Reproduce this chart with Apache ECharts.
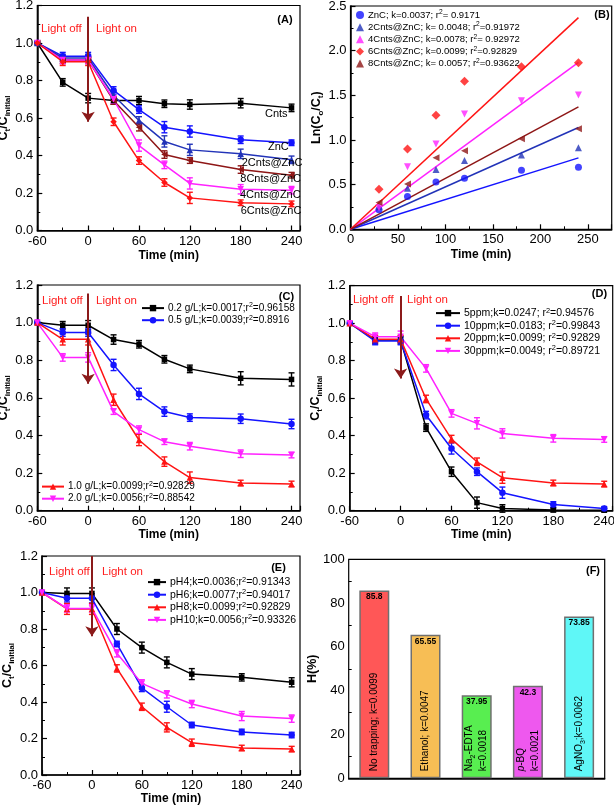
<!DOCTYPE html>
<html><head><meta charset="utf-8">
<script src="https://cdn.jsdelivr.net/npm/echarts@6/dist/echarts.min.js"></script>
<style>html,body{margin:0;padding:0;background:#fff}#c{width:614px;height:805px}</style>
</head><body><div id="c"></div>
<script>
// ---------- shared ----------
const times = [-60, -30, 0, 30, 60, 90, 120, 180, 240];

// ---------- Panel A ----------
const aCnts  = [1.0, 0.79, 0.706, 0.693, 0.693, 0.676, 0.672, 0.679, 0.654];
const aZnC   = [1.0, 0.93, 0.93, 0.747, 0.645, 0.551, 0.528, 0.484, 0.468];
const a2Cnts = [1.0, 0.92, 0.92, 0.72, 0.587, 0.475, 0.43, 0.409, 0.377];
const a8Cnts = [1.0, 0.91, 0.91, 0.693, 0.551, 0.405, 0.373, 0.325, 0.295];
const a4Cnts = [1.0, 0.91, 0.91, 0.70, 0.453, 0.35, 0.251, 0.22, 0.215];
const a6Cnts = [1.0, 0.90, 0.90, 0.58, 0.373, 0.256, 0.174, 0.148, 0.142];
const aErrCnts  = [0, 0.02, 0.025, 0.02, 0.022, 0.02, 0.025, 0.025, 0.02];
const aErrZnC   = [0, 0.02, 0.02, 0.02, 0.02, 0.03, 0.03, 0.02, 0.015];
const aErr2Cnts = [0, 0.02, 0.02, 0.02, 0.02, 0.03, 0.03, 0.025, 0.02];
const aErr8Cnts = [0, 0.02, 0.02, 0.02, 0.02, 0.02, 0.015, 0.02, 0.015];
const aErr4Cnts = [0, 0.02, 0.02, 0.02, 0.03, 0.02, 0.03, 0.025, 0.02];
const aErr6Cnts = [0, 0.02, 0.02, 0.02, 0.02, 0.02, 0.03, 0.015, 0.015];
const aArrow = [1.14, 0.58];

// ---------- Panel B ----------
const bTimes = [30, 60, 90, 120, 180, 240];
const bZnC   = [0.22, 0.366, 0.53, 0.571, 0.66, 0.694];
const b2Cnts = [0.254, 0.459, 0.67, 0.769, 0.832, 0.914];
const b4Cnts = [0.24, 0.70, 0.955, 1.29, 1.44, 1.504];
const b6Cnts = [0.448, 0.899, 1.276, 1.657, 1.82, 1.866];
const b8Cnts = [0.30, 0.507, 0.80, 0.88, 1.015, 1.127];
const bFitX = [0, 240];
const bFitZnC = [0, 0.80];
const bFit2 = [0, 1.14];
const bFit4 = [0, 1.87];
const bFit6 = [0, 2.37];
const bFit8 = [0, 1.37];
const bNames = ['ZnC; k=0.0037; r^2= 0.9171', '2Cnts@ZnC; k= 0.0048; r^2=0.91972', '4Cnts@ZnC; k=0.0078; r^2= 0.92972', '6Cnts@ZnC; k=0.0099; r^2=0.92829', '8Cnts@ZnC; k= 0.0057; r^2=0.93622'];

// ---------- Panel C ----------
const c02 = [1.0, 0.986, 0.986, 0.910, 0.885, 0.805, 0.754, 0.704, 0.698];
const c05 = [1.0, 0.947, 0.947, 0.775, 0.621, 0.527, 0.495, 0.489, 0.461];
const c10 = [1.0, 0.911, 0.911, 0.59, 0.376, 0.261, 0.176, 0.147, 0.142];
const c20 = [1.0, 0.815, 0.815, 0.527, 0.431, 0.367, 0.343, 0.303, 0.296];
const cErr02 = [0, 0.02, 0.025, 0.025, 0.02, 0.02, 0.02, 0.035, 0.035];
const cErr05 = [0, 0.02, 0.02, 0.03, 0.03, 0.025, 0.02, 0.025, 0.025];
const cErr10 = [0, 0.03, 0.03, 0.03, 0.03, 0.025, 0.03, 0.015, 0.015];
const cErr20 = [0, 0.02, 0.025, 0.015, 0.02, 0.015, 0.02, 0.02, 0.015];
const cNames = ['0.2 g/L;k=0.0017;r^2=0.96158', '0.5 g/L;k=0.0039;r^2=0.8916', '1.0 g/L;k=0.0099;r^2=0.92829', '2.0 g/L;k=0.0056;r^2=0.88542'];
const cArrow = [1.155, 0.675];

// ---------- Panel D ----------
const d5  = [1.0, 0.91, 0.91, 0.443, 0.208, 0.043, 0.012, 0.004, 0.003];
const d10 = [1.0, 0.905, 0.905, 0.51, 0.332, 0.208, 0.096, 0.033, 0.012];
const d20 = [1.0, 0.915, 0.915, 0.596, 0.382, 0.261, 0.176, 0.148, 0.142];
const d30 = [1.0, 0.928, 0.928, 0.759, 0.519, 0.466, 0.412, 0.386, 0.380];
const dErr5  = [0, 0.02, 0.02, 0.02, 0.025, 0.03, 0.02, 0.01, 0.01];
const dErr10 = [0, 0.02, 0.02, 0.02, 0.03, 0.02, 0.03, 0.015, 0.01];
const dErr20 = [0, 0.02, 0.02, 0.02, 0.02, 0.02, 0.03, 0.015, 0.015];
const dErr30 = [0, 0.02, 0.03, 0.02, 0.02, 0.03, 0.025, 0.02, 0.015];
const dNames = ['5ppm;k=0.0247; r^2=0.94576', '10ppm;k=0.0183; r^2=0.99843', '20ppm;k=0.0099; r^2=0.92829', '30ppm;k=0.0049; r^2=0.89721'];
const dArrow = [1.145, 0.705];

// ---------- Panel E ----------
const e4  = [1.0, 0.995, 0.995, 0.80, 0.698, 0.617, 0.553, 0.535, 0.508];
const e6  = [1.0, 0.968, 0.968, 0.718, 0.477, 0.374, 0.274, 0.236, 0.219];
const e8  = [1.0, 0.91, 0.91, 0.584, 0.374, 0.261, 0.177, 0.148, 0.142];
const e10 = [1.0, 0.913, 0.913, 0.667, 0.502, 0.442, 0.389, 0.323, 0.309];
const eErr4  = [0, 0.03, 0.03, 0.03, 0.03, 0.03, 0.03, 0.02, 0.025];
const eErr6  = [0, 0.02, 0.025, 0.015, 0.02, 0.03, 0.015, 0.015, 0.015];
const eErr8  = [0, 0.03, 0.03, 0.02, 0.02, 0.025, 0.02, 0.015, 0.015];
const eErr10 = [0, 0.02, 0.02, 0.02, 0.02, 0.02, 0.02, 0.025, 0.02];
const eNames = ['pH4;k=0.0036;r^2=0.91343', 'pH6;k=0.0077;r^2=0.94017', 'pH8;k=0.0099;r^2=0.92829', 'pH10;k=0.0056;r^2=0.93326'];
const eArrow = [1.2, 0.76];

// ---------- Panel F ----------
const fCats = ['No trapping', 'Ethanol', 'Na2-EDTA', 'p-BQ', 'AgNO3'];
const fValues = [85.8, 65.55, 37.95, 42.3, 73.85];
const fNotes = ['{t|No trapping; k=0.0099}', '{t|Ethanol; k=0.0047}', '{t|Na}{s|2}{t|-EDTA}\n{t|k=0.0018}', '{i|p}{t|-BQ}\n{t|k=0.0021}', '{t|AgNO}{s|3}{t|;k=0.0062}'];
const fColors = ['#ff5757', '#f7be55', '#58ee50', '#ee58ee', '#5ff7f7'];

// ---------- styling ----------
const FF = '"Liberation Sans", Arial, sans-serif';
const BLACK = '#000000', BLUE = '#1414ff', NAVY = '#2233b8', RED = '#ff1414', MAG = '#ff22ff', DRED = '#8e1616';
const ARROWC = '#8b1a1a';

const grids = [
  {left: 37.3, top: 5.5, width: 262.7, height: 225},      // A
  {left: 350.5, top: 6, width: 261.2, height: 223.3},     // B
  {left: 37.3, top: 285, width: 262.7, height: 225.7},    // C
  {left: 349.7, top: 285.7, width: 263, height: 225},     // D
  {left: 42, top: 556, width: 258, height: 219},          // E
  {left: 348.7, top: 559.3, width: 256, height: 219}      // F
].map(g => Object.assign({show: true, borderColor: '#000', borderWidth: 1.2, containLabel: false, outerBoundsMode: 'none'}, g));

const tickStyle = {inside: true, length: 5, lineStyle: {color: '#000', width: 1.2}};
const minorStyle = {show: true, splitNumber: 2, length: 3, lineStyle: {color: '#000', width: 1}};
const axLine = {onZero: false, lineStyle: {color: '#000', width: 1.5}};

function xTime(gi, gap) {
  return {type: 'value', gridIndex: gi, min: -60, max: 250, interval: 60,
    axisLine: axLine, axisTick: tickStyle, minorTick: minorStyle, splitLine: {show: false},
    axisLabel: {fontSize: 13, color: '#000', margin: 4, showMaxLabel: false, fontFamily: FF},
    name: 'Time (min)', nameLocation: 'middle', nameGap: gap,
    nameTextStyle: {fontWeight: 'bold', fontSize: 12, color: '#000', fontFamily: FF}};
}
const richY = {
  b: {fontWeight: 'bold', fontSize: 12.5, lineHeight: 16, color: '#000', fontFamily: FF},
  s: {fontWeight: 'bold', fontSize: 8, lineHeight: 8, verticalAlign: 'bottom', color: '#000', fontFamily: FF}
};
function yAx(gi, min, max, interval, dec, name, gap) {
  return {type: 'value', gridIndex: gi, min, max, interval,
    axisLine: axLine, axisTick: tickStyle, minorTick: minorStyle, splitLine: {show: false},
    axisLabel: {fontSize: 13, color: '#000', margin: 4, fontFamily: FF, formatter: v => v.toFixed(dec)},
    name, nameLocation: 'middle', nameGap: gap, nameRotate: 90,
    nameTextStyle: {rich: richY}};
}
const ctName = '{b|C}{s|t}{b|/C}{s|initial}';

function pairs(xs, ys) { return xs.map((x, i) => [x, ys[i]]); }

function lineS(gi, name, ys, color, symbol, rot, arrow) {
  const s = {type: 'line', name, xAxisIndex: gi, yAxisIndex: gi, data: pairs(times, ys),
    symbol, symbolSize: symbol === 'rect' ? 5.5 : 6.5, symbolRotate: rot || 0,
    itemStyle: {color}, lineStyle: {color, width: 1.5}, z: 4};
  if (arrow) {
    s.markLine = {silent: true, symbol: ['none', 'arrow'], symbolSize: 10, animation: false,
      lineStyle: {color: ARROWC, width: 2, type: 'solid'}, label: {show: false},
      emphasis: {disabled: true},
      data: [[{coord: [0, arrow[0]]}, {coord: [0, arrow[1]]}]]};
  }
  return s;
}
function errS(gi, ys, errs, color) {
  return {type: 'custom', xAxisIndex: gi, yAxisIndex: gi, silent: true, z: 3,
    data: times.map((x, i) => [x, ys[i], errs[i]]),
    encode: {x: 0, y: 1},
    renderItem: (params, api) => {
      const x = api.value(0), y = api.value(1), e = api.value(2);
      if (!e) return null;
      const hi = api.coord([x, y + e]), lo = api.coord([x, y - e]);
      const w = 3, st = {stroke: color, lineWidth: 1.4};
      return {type: 'group', children: [
        {type: 'line', shape: {x1: hi[0], y1: hi[1], x2: lo[0], y2: lo[1]}, style: st},
        {type: 'line', shape: {x1: hi[0] - w, y1: hi[1], x2: hi[0] + w, y2: hi[1]}, style: st},
        {type: 'line', shape: {x1: lo[0] - w, y1: lo[1], x2: lo[0] + w, y2: lo[1]}, style: st}
      ]};
    }};
}
function scatS(name, ys, color, symbol, rot) {
  return {type: 'scatter', name, xAxisIndex: 1, yAxisIndex: 1, data: pairs(bTimes, ys),
    symbol, symbolSize: symbol === 'diamond' ? 9 : 7, symbolRotate: rot || 0, itemStyle: {color}, z: 4};
}
function fitS(ys, color) {
  return {type: 'line', xAxisIndex: 1, yAxisIndex: 1, data: pairs(bFitX, ys), symbol: 'none',
    lineStyle: {color, width: 1.5}, z: 3, silent: true};
}

function legendFmt(name) {
  const p = name.split('^2');
  return p.length > 1 ? '{t|' + p[0] + '}{p|2}{t|' + p[1] + '}' : '{t|' + name + '}';
}
function legend(data, left, top, fs, iw) {
  return {data, left, top, orient: 'vertical', padding: 0, itemGap: 1, itemWidth: iw, itemHeight: 8,
    selectedMode: false, formatter: legendFmt,
    textStyle: {fontFamily: FF, color: '#000', padding: [0, 0, 0, -1], rich: {
      t: {fontSize: fs, lineHeight: 12.2, color: '#000', fontFamily: FF},
      p: {fontSize: fs * 0.7, lineHeight: 7, verticalAlign: 'top', color: '#000', fontFamily: FF}}}};
}

function T(x, y, text, font, fill, align) {
  return {type: 'text', x, y, silent: true, z: 100,
    style: {text, font, fill: fill || '#000', align: align || 'left', verticalAlign: 'middle',
      textAlign: align || 'left', textVerticalAlign: 'middle'}};
}
const lf = '11.5px ' + FF, bf = 'bold 11px ' + FF, lab = '11px ' + FF;
const LRED = '#ff2020';

const option = {
  animation: false,
  textStyle: {fontFamily: FF, color: '#000'},
  grid: grids,
  xAxis: [
    xTime(0, 19),
    {type: 'value', gridIndex: 1, min: 0, max: 275, interval: 50,
      axisLine: axLine, axisTick: tickStyle, minorTick: minorStyle, splitLine: {show: false},
      axisLabel: {fontSize: 13, color: '#000', margin: 4, showMaxLabel: false, fontFamily: FF},
      name: 'Time (min)', nameLocation: 'middle', nameGap: 19,
      nameTextStyle: {fontWeight: 'bold', fontSize: 12, color: '#000', fontFamily: FF}},
    xTime(2, 17),
    xTime(3, 17),
    xTime(4, 15.5),
    {type: 'category', gridIndex: 5, data: fCats, axisLine: axLine,
      axisTick: {show: false}, axisLabel: {show: false}, splitLine: {show: false}}
  ],
  yAxis: [
    yAx(0, 0, 1.2, 0.2, 1, ctName, 19),
    yAx(1, 0, 2.5, 0.5, 1, '{b|Ln(C}{s|o}{b|/C}{s|t}{b|)}', 18),
    yAx(2, 0, 1.2, 0.2, 1, ctName, 21),
    yAx(3, 0, 1.2, 0.2, 1, ctName, 21.5),
    yAx(4, 0, 1.2, 0.2, 1, ctName, 25),
    yAx(5, 0, 100, 20, 0, '{b|H(%)}', 15)
  ],
  legend: [
    legend(bNames, 356, 9, 9.5, 8),
    legend([cNames[0], cNames[1]], 141, 302, 10, 22),
    legend([cNames[2], cNames[3]], 41, 480.5, 10, 22),
    legend(dNames, 435, 307, 10.5, 24),
    legend(eNames, 147, 576, 10.5, 18)
  ],
  series: [
    // A
    errS(0, aCnts, aErrCnts, BLACK), errS(0, aZnC, aErrZnC, BLUE), errS(0, a2Cnts, aErr2Cnts, NAVY),
    errS(0, a8Cnts, aErr8Cnts, DRED), errS(0, a4Cnts, aErr4Cnts, MAG), errS(0, a6Cnts, aErr6Cnts, RED),
    lineS(0, 'Cnts', aCnts, BLACK, 'rect'),
    lineS(0, 'ZnC', aZnC, BLUE, 'circle'),
    lineS(0, '2Cnts@ZnC', a2Cnts, NAVY, 'triangle'),
    lineS(0, '8Cnts@ZnC', a8Cnts, DRED, 'triangle', 90),
    lineS(0, '4Cnts@ZnC', a4Cnts, MAG, 'triangle', 180),
    lineS(0, '6Cnts@ZnC', a6Cnts, RED, 'diamond', 0, aArrow),
    // B
    fitS(bFitZnC, BLUE), fitS(bFit2, NAVY), fitS(bFit4, MAG), fitS(bFit6, RED), fitS(bFit8, DRED),
    scatS(bNames[0], bZnC, BLUE, 'circle'),
    scatS(bNames[1], b2Cnts, NAVY, 'triangle'),
    scatS(bNames[2], b4Cnts, MAG, 'triangle', 180),
    scatS(bNames[3], b6Cnts, RED, 'diamond'),
    scatS(bNames[4], b8Cnts, DRED, 'triangle', 90),
    // C
    errS(2, c02, cErr02, BLACK), errS(2, c05, cErr05, BLUE), errS(2, c10, cErr10, RED), errS(2, c20, cErr20, MAG),
    lineS(2, cNames[0], c02, BLACK, 'rect'),
    lineS(2, cNames[1], c05, BLUE, 'circle'),
    lineS(2, cNames[2], c10, RED, 'triangle', 0, cArrow),
    lineS(2, cNames[3], c20, MAG, 'triangle', 180),
    // D
    errS(3, d5, dErr5, BLACK), errS(3, d10, dErr10, BLUE), errS(3, d20, dErr20, RED), errS(3, d30, dErr30, MAG),
    lineS(3, dNames[0], d5, BLACK, 'rect'),
    lineS(3, dNames[1], d10, BLUE, 'circle'),
    lineS(3, dNames[2], d20, RED, 'triangle', 0, dArrow),
    lineS(3, dNames[3], d30, MAG, 'triangle', 180),
    // E
    errS(4, e4, eErr4, BLACK), errS(4, e6, eErr6, BLUE), errS(4, e8, eErr8, RED), errS(4, e10, eErr10, MAG),
    lineS(4, eNames[0], e4, BLACK, 'rect'),
    lineS(4, eNames[1], e6, BLUE, 'circle'),
    lineS(4, eNames[2], e8, RED, 'triangle', 0, eArrow),
    lineS(4, eNames[3], e10, MAG, 'triangle', 180),
    // F
    {type: 'bar', xAxisIndex: 5, yAxisIndex: 5, barWidth: 30, silent: true,
      data: fValues.map((v, i) => ({value: v, itemStyle: {color: fColors[i]}})),
      itemStyle: {borderColor: '#707070', borderWidth: 1.5},
      label: {show: true, position: 'insideTop', distance: 2, fontSize: 8.5, fontWeight: 'bold', color: '#000', fontFamily: FF}},
    {type: 'bar', xAxisIndex: 5, yAxisIndex: 5, barWidth: 30, barGap: '-100%', silent: true, z: 5,
      data: fValues, itemStyle: {color: 'rgba(0,0,0,0)', borderWidth: 0},
      label: {show: true, position: 'insideBottom', rotate: 90, align: 'left', verticalAlign: 'middle', distance: 7,
        formatter: p => fNotes[p.dataIndex],
        rich: {
          t: {fontSize: 10, lineHeight: 14, color: '#000', fontFamily: FF},
          i: {fontSize: 10, lineHeight: 14, fontStyle: 'italic', color: '#000', fontFamily: FF},
          s: {fontSize: 7, lineHeight: 7, verticalAlign: 'bottom', color: '#000', fontFamily: FF}}}}
  ],
  graphic: [
    // light labels
    T(41, 29, 'Light off', lf, LRED), T(96, 29, 'Light on', lf, LRED),
    T(42, 301, 'Light off', lf, LRED), T(96, 301, 'Light on', lf, LRED),
    T(353, 300, 'Light off', lf, LRED), T(407, 300, 'Light on', lf, LRED),
    T(49, 572, 'Light off', lf, LRED), T(102, 572, 'Light on', lf, LRED),
    // panel letters
    T(285, 20, '(A)', bf, '#000', 'center'), T(602, 15, '(B)', bf, '#000', 'center'),
    T(286.5, 296.7, '(C)', bf, '#000', 'center'), T(599.5, 294.3, '(D)', bf, '#000', 'center'),
    T(278.5, 567.7, '(E)', bf, '#000', 'center'), T(593, 570.7, '(F)', bf, '#000', 'center'),
    // panel A curve labels
    T(265, 114.3, 'Cnts', lab), T(268, 146.7, 'ZnC', lab), T(241.7, 162.7, '2Cnts@ZnC', lab),
    T(240.3, 179.3, '8Cnts@ZnC', lab), T(240, 195.3, '4Cnts@ZnC', lab), T(240.7, 210.7, '6Cnts@ZnC', lab)
  ]
};
const chart = echarts.init(document.getElementById('c'), null, {renderer: 'canvas'});
chart.setOption(option);
</script></body></html>
